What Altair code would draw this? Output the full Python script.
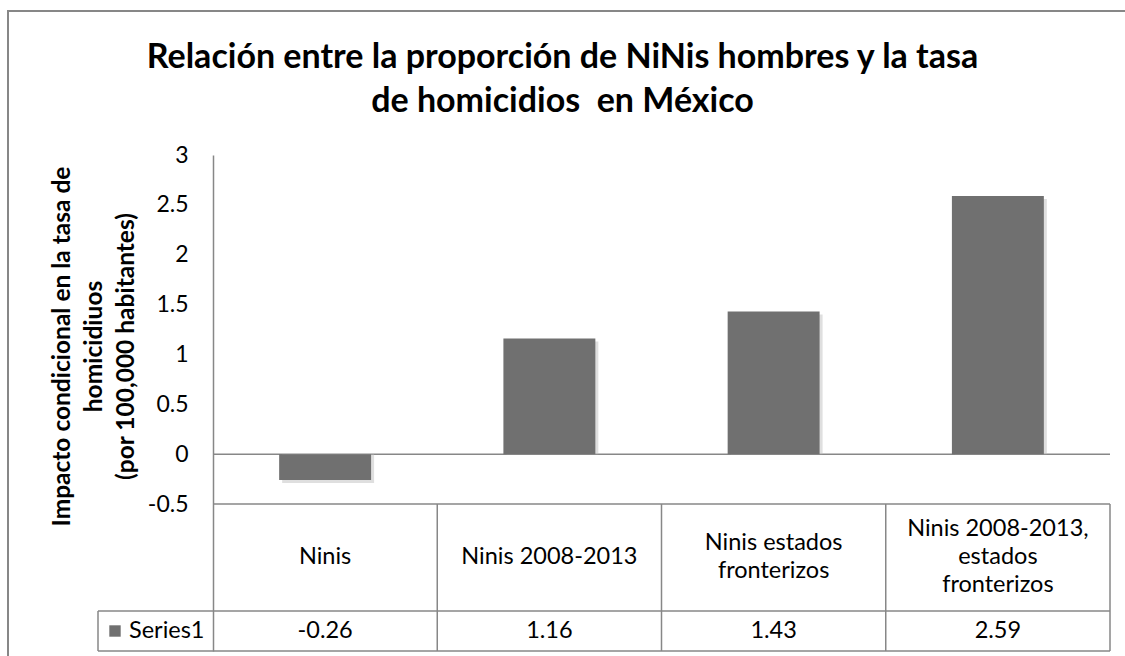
import altair as alt
import pandas as pd

# ---------------- data ----------------
categories = ["Ninis", "Ninis 2008-2013", "Ninis estados fronterizos",
              "Ninis 2008-2013, estados fronterizos"]
label_lines = [["Ninis"], ["Ninis 2008-2013"], ["Ninis estados", "fronterizos"],
               ["Ninis 2008-2013,", "estados", "fronterizos"]]
values = [-0.26, 1.16, 1.43, 2.59]
series_name = "Series1"
y_ticks = [-0.5, 0, 0.5, 1, 1.5, 2, 2.5, 3]
title_lines = ["Relación entre la proporción de NiNis hombres y la tasa",
               "de homicidios \u00a0en México"]
y_title = ["Impacto condicional en la tasa de", "homicidiuos",
           "(por 100,000 habitantes)"]

# ---------------- layout ----------------
W, H = 897, 496
PAD = {"left": 213, "top": 155, "right": 15, "bottom": 5}
PX_PER_UNIT = (504 - 155) / 3.5
Y_MIN = -0.5 - (651 - 504) / PX_PER_UNIT
T_TOP = (3 - (-0.5)) * PX_PER_UNIT  # table top in plot pixels
ROW = 456
CAT_MID = 402
VAL_MID = 476
LINE_H = 28
FONT = "Lato"
LINE = "#878787"
BAR = "#707070"
TXT = 23.5

df = pd.DataFrame({
    "cat": categories,
    "value": values,
    "lines": label_lines,
    "vlabel": [f"{v:.2f}" for v in values],
})

x_enc = alt.X("cat:N", sort=categories, axis=None,
              scale=alt.Scale(paddingInner=0.59, paddingOuter=0.295))
y_scale = alt.Scale(domain=[Y_MIN, 3], nice=False, zero=False)
y_axis = alt.Axis(
    values=y_ticks, title=y_title, grid=False, ticks=False,
    domainColor=LINE, domainWidth=1.5,
    labelFont=FONT, labelFontSize=23, labelColor="black", labelPadding=25,
    labelExpr="'' + datum.value",
    titleFont=FONT, titleFontSize=24.5, titleFontWeight="bold", titleColor="black",
    titleAngle=270, titleX=-151, titleY=191, titleAlign="center",
    titleBaseline="middle", titleLineHeight=32,
)

base = alt.Chart(df)

shadow = base.mark_bar(color="#bfbfbf", opacity=0.5, xOffset=3, yOffset=3).encode(
    x=x_enc, y=alt.Y("value:Q", scale=y_scale, axis=y_axis), y2=alt.Y2("zero:Q")
).transform_calculate(zero="0")

bars = base.mark_bar(color=BAR).encode(
    x=x_enc,
    y=alt.Y("value:Q", scale=y_scale, axis=y_axis),
)

# horizontal reference lines in data units (zero line, table top)
hlines = alt.Chart(pd.DataFrame({"v": [0, -0.5]})).mark_rule(
    color=LINE, strokeWidth=1.5).encode(y=alt.Y("v:Q", scale=y_scale, axis=y_axis))

# table grid (pixel layout)
seg = pd.DataFrame({
    "x1": [-115, -115] + [k * W / 4 for k in range(1, 5)] + [-115],
    "x2": [W, W] + [k * W / 4 for k in range(1, 5)] + [-115],
    "y1": [ROW, H] + [T_TOP] * 4 + [ROW],
    "y2": [ROW, H] + [H] * 4 + [H],
})
grid = alt.Chart(seg).mark_rule(color=LINE, strokeWidth=1.5).encode(
    x=alt.X("x1:Q", scale=None), x2="x2:Q",
    y=alt.Y("y1:Q", scale=None), y2="y2:Q")

frame_df = pd.DataFrame({"x1": [-205], "x2": [940], "y1": [-144], "y2": [540]})
frame = alt.Chart(frame_df).mark_rect(fillOpacity=0, stroke=LINE, strokeWidth=2).encode(
    x=alt.X("x1:Q", scale=None), x2="x2:Q",
    y=alt.Y("y1:Q", scale=None), y2="y2:Q")

cat_text = base.transform_calculate(
    ty=f"{CAT_MID} - (length(datum.lines) - 1) * {LINE_H / 2}"
).mark_text(font=FONT, fontSize=TXT, lineHeight=LINE_H, baseline="middle",
            align="center", color="black").encode(
    x=x_enc, y=alt.Y("ty:Q", scale=None), text="lines:N")

val_text = base.mark_text(font=FONT, fontSize=TXT, baseline="middle",
                          align="center", color="black", dy=VAL_MID - H / 2).encode(
    x=x_enc, text="vlabel:N")

leg_df = pd.DataFrame({"s": [series_name], "kx": [-98], "tx": [-84], "ky": [VAL_MID]})
key = alt.Chart(leg_df).mark_square(size=130, color=BAR, opacity=1).encode(
    x=alt.X("kx:Q", scale=None), y=alt.Y("ky:Q", scale=None))
key_text = alt.Chart(leg_df).mark_text(
    font=FONT, fontSize=TXT, baseline="middle", align="left", color="black").encode(
    x=alt.X("tx:Q", scale=None), y=alt.Y("ky:Q", scale=None), text="s:N")

chart = alt.layer(frame, hlines, grid, shadow, bars, cat_text, val_text, key, key_text).properties(
    width=W, height=H, padding=PAD,
    autosize=alt.AutoSizeParams(type="none"),
    background="white",
    title=alt.TitleParams(text=title_lines, font=FONT, fontSize=34, fontWeight="bold",
                          color="black", anchor="middle", frame="group", dx=-99,
                          lineHeight=44, offset=0, dy=109),
).configure_view(stroke=None)

chart.save("out.html", embed_options={"renderer": "svg", "actions": False})
